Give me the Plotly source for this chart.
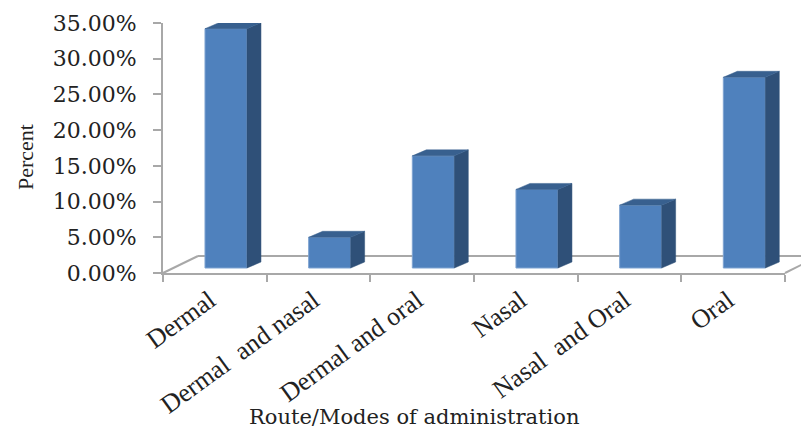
import plotly.graph_objects as go

# values (percent)
categories = ['Dermal', 'Dermal  and nasal', 'Dermal and oral', 'Nasal', 'Nasal  and Oral', 'Oral']
values = [33.5, 4.3, 15.7, 11.0, 8.8, 26.7]
y_ticks = [0, 5, 10, 15, 20, 25, 30, 35]
y_labels = ['0.00%', '5.00%', '10.00%', '15.00%', '20.00%', '25.00%', '30.00%', '35.00%']

# fake 3D look, in axis units
BAR_OFFSET = -0.095
BAR_WIDTH = 0.405
BAR_BASE = 0.7
DEPTH_X = 0.135
DEPTH_Y = 0.84

FRONT = '#4f81bd'
SIDE = '#2f5078'
TOP = '#38608f'
GREY = '#a8a8a8'
TEXT = '#222222'

# the page body adds 8px around the figure
PAGE = 8
W, H = 809 - PAGE, 432 - PAGE
L, R, T, B = 163 - PAGE, 785 - PAGE, 23 - PAGE, 273 - PAGE
PX = lambda x: (x - PAGE - L) / (R - L)
PY = lambda y: (B - (y - PAGE)) / (B - T)

fig = go.Figure()

fig.add_trace(go.Bar(
    x=categories, y=values, base=BAR_BASE,
    offset=BAR_OFFSET, width=BAR_WIDTH,
    marker=dict(color=FRONT, line=dict(color='#7fa3d1', width=1)),
    showlegend=False,
))

# side and top faces of each bar
for i, v in enumerate(values):
    left = i + BAR_OFFSET
    right = left + BAR_WIDTH
    top = BAR_BASE + v
    fig.add_trace(go.Scatter(
        x=[right, right + DEPTH_X, right + DEPTH_X, right, right],
        y=[BAR_BASE, BAR_BASE + DEPTH_Y, top + DEPTH_Y, top, BAR_BASE],
        xaxis='x2', mode='lines', fill='toself', fillcolor=SIDE,
        line=dict(color=SIDE, width=0.5), showlegend=False,
    ))
    fig.add_trace(go.Scatter(
        x=[left, left + DEPTH_X, right + DEPTH_X, right, left],
        y=[top, top + DEPTH_Y, top + DEPTH_Y, top, top],
        xaxis='x2', mode='lines', fill='toself', fillcolor=TOP,
        line=dict(color=TOP, width=0.5), showlegend=False,
    ))

# floor of the 3D box, behind the bars
floor = [
    (163, 273, 198, 256),
    (198, 256, 809, 256),
    (785, 273, 809, 261),
]
for x0, y0, x1, y1 in floor:
    fig.add_shape(type='line', xref='paper', yref='paper', layer='below',
                  x0=PX(x0), y0=PY(y0), x1=PX(x1), y1=PY(y1),
                  line=dict(color=GREY, width=2))

# axis titles sit off centre in the reference, so annotations
fig.add_annotation(
    text='Route/Modes of administration', xref='paper', yref='paper',
    x=PX(414), y=PY(417), xanchor='center', yanchor='middle', showarrow=False,
    font=dict(family='DejaVu Serif', size=21, color=TEXT),
)
fig.add_annotation(
    text='Percent', xref='paper', yref='paper', textangle=-90,
    x=PX(25), y=PY(157), xanchor='center', yanchor='middle', showarrow=False,
    font=dict(family='Liberation Serif', size=22, color=TEXT),
)

fig.update_layout(
    width=W, height=H,
    paper_bgcolor='white', plot_bgcolor='white',
    margin=dict(l=L, r=W - R, t=T, b=H - B, autoexpand=False),
    font=dict(family='Liberation Serif', color=TEXT),
    xaxis=dict(
        type='category', categoryorder='array', categoryarray=categories,
        range=[-0.5, 5.5], tickson='boundaries', ticks='outside', ticklen=7,
        tickcolor=GREY, tickwidth=2, showline=True, linecolor=GREY, linewidth=2,
        showgrid=False, tickangle=-36, automargin=False, ticklabelshift=-5,
        tickfont=dict(family='Liberation Serif', size=26, color=TEXT),
    ),
    xaxis2=dict(overlaying='x', range=[-0.5, 5.5], visible=False, anchor='y'),
    yaxis=dict(
        range=[0, 35], tickmode='array', tickvals=y_ticks, ticktext=y_labels,
        ticks='outside', ticklen=8,
        ticklabelstandoff=12, tickcolor=GREY, tickwidth=2,
        showline=True, linecolor=GREY, linewidth=2, showgrid=False,
        zeroline=False, automargin=False,
        tickfont=dict(family='DejaVu Serif', size=22, color=TEXT),
    ),
)

fig.write_html("out.html")
